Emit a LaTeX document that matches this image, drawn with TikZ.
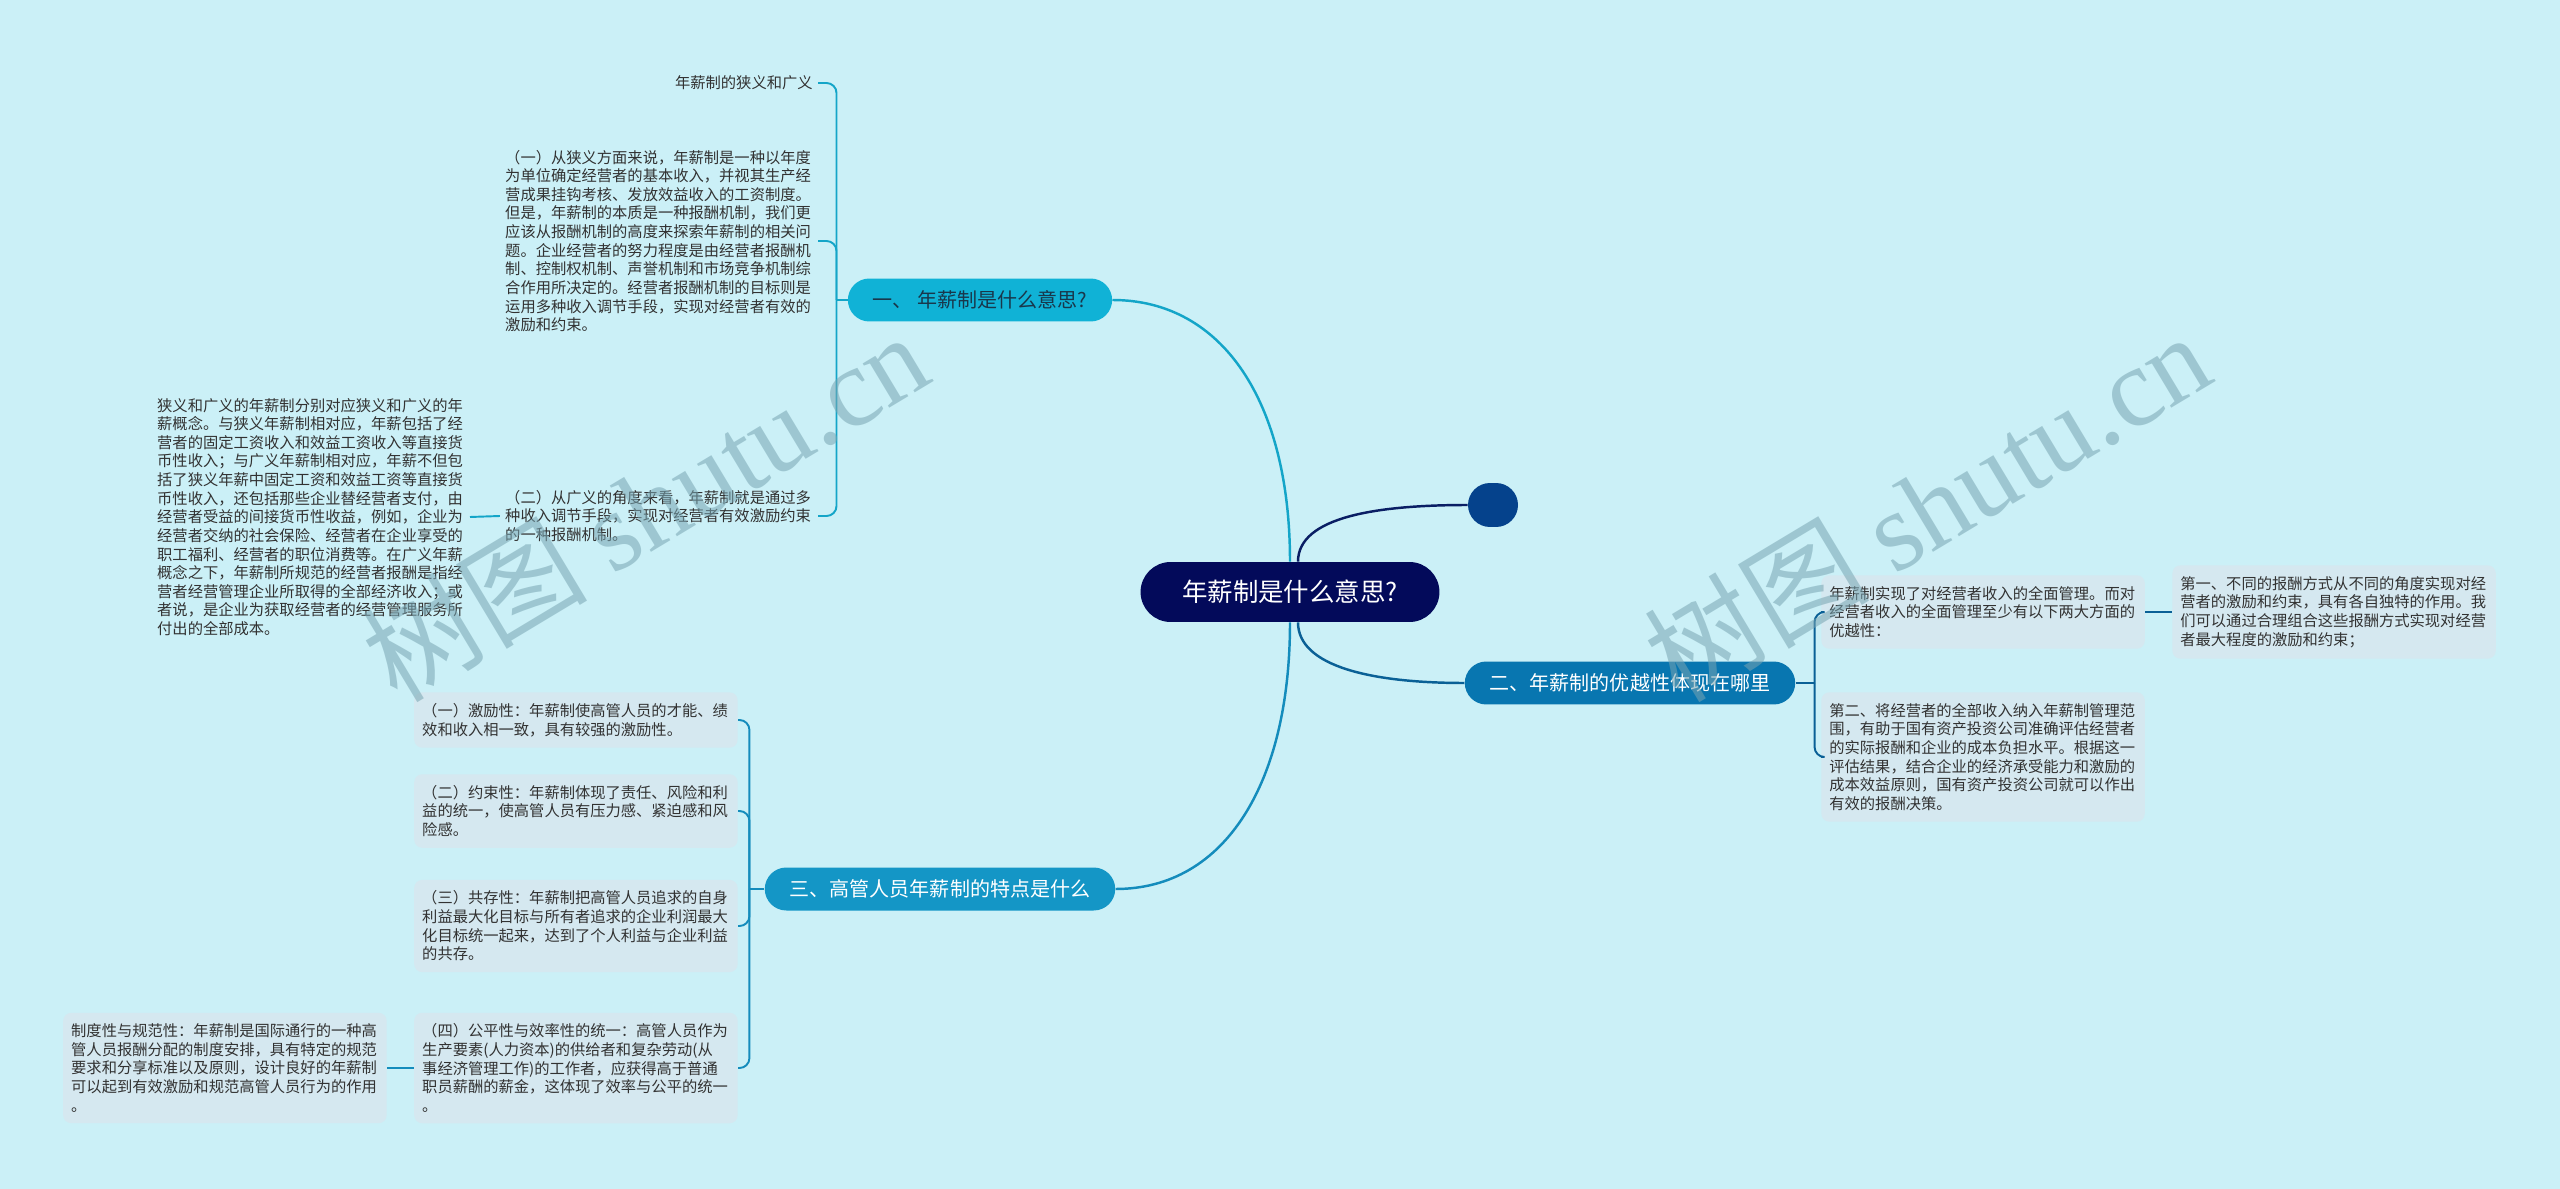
\documentclass[tikz,border=0pt]{standalone}
\usepackage{fontspec}
\setmainfont{Noto Sans CJK SC}
\newfontfamily\wmlatin{Liberation Serif}
\usetikzlibrary{calc}

\definecolor{bgcol}{RGB}{203,240,247}
\definecolor{rootcol}{RGB}{3,10,90}
\definecolor{blobcol}{RGB}{5,66,140}
\definecolor{onecol}{RGB}{16,178,214}
\definecolor{onetext}{RGB}{25,55,75}
\definecolor{twocol}{RGB}{8,118,176}
\definecolor{threecol}{RGB}{20,150,198}
\definecolor{lineone}{RGB}{20,165,200}
\definecolor{linetwo}{RGB}{10,96,150}
\definecolor{linethree}{RGB}{20,140,188}
\definecolor{linenavy}{RGB}{10,30,100}
\definecolor{cardcol}{RGB}{213,232,240}
\definecolor{txtcol}{RGB}{50,50,50}
\definecolor{wmcol}{RGB}{120,165,178}

\begin{document}
\begin{tikzpicture}[x=0.02cm,y=-0.02cm,
    root/.style={fill=rootcol,text=white,rounded corners=0.6cm,minimum height=1.2cm,
        inner xsep=0.83cm,font=\fontsize{14.5pt}{16pt}\selectfont},
    blob/.style={fill=blobcol,rounded corners=0.44cm,minimum width=1cm,minimum height=0.88cm},
    branch/.style={rounded corners=0.43cm,minimum height=0.86cm,inner xsep=0.5cm,
        text=white,font=\fontsize{11.4pt}{13pt}\selectfont},
    leaf/.style={text=txtcol,align=left,text width=6.15cm,inner sep=0.1cm,
        font=\fontsize{8.7pt}{10.6pt}\selectfont},
    card/.style={leaf,fill=cardcol,rounded corners=0.16cm,inner xsep=0.16cm,inner ysep=0.22cm},
    link/.style={line width=1.4pt},
    brace/.style={line width=1.1pt,rounded corners=0.2cm},
    wm/.style={text=wmcol,opacity=0.55,font=\fontsize{64pt}{70pt}\selectfont}
  ]
  \useasboundingbox (0,0) rectangle (2560,1189);
  \fill[bgcol] (0,0) rectangle (2560,1189);

  % centre
  \node[root] (root) at (1290,592) {年薪制是什么意思?};
  \node[blob] (blob) at (1493,505) {};

  % three main topics
  \node[branch,fill=onecol,text=onetext] (b1) at (980,300) {一、 年薪制是什么意思?};
  \node[branch,fill=twocol] (b2) at (1630,683) {二、年薪制的优越性体现在哪里};
  \node[branch,fill=threecol] (b3) at (940,889) {三、高管人员年薪制的特点是什么};

  \coordinate (b1j) at ($(b1.west)+(-11,0)$);
  \coordinate (b2j) at ($(b2.east)+(19,0)$);
  \coordinate (b3j) at ($(b3.west)+(-15,0)$);

  % branch 1
  \node[leaf,anchor=east,align=right] (c11) at (818,83) {年薪制的狭义和广义};
  \node[leaf,anchor=east] (c12) at (818,241) {（一）从狭义方面来说，年薪制是一种以年度\\
    为单位确定经营者的基本收入，并视其生产经\\
    营成果挂钩考核、发放效益收入的工资制度。\\
    但是，年薪制的本质是一种报酬机制，我们更\\
    应该从报酬机制的高度来探索年薪制的相关问\\
    题。企业经营者的努力程度是由经营者报酬机\\
    制、控制权机制、声誉机制和市场竞争机制综\\
    合作用所决定的。经营者报酬机制的目标则是\\
    运用多种收入调节手段，实现对经营者有效的\\
    激励和约束。};
  \node[leaf,anchor=east] (c13) at (818,516) {（二）从广义的角度来看，年薪制就是通过多\\
    种收入调节手段，实现对经营者有效激励约束\\
    的一种报酬机制。};
  \node[leaf,anchor=east] (c131) at (470,517) {狭义和广义的年薪制分别对应狭义和广义的年\\
    薪概念。与狭义年薪制相对应，年薪包括了经\\
    营者的固定工资收入和效益工资收入等直接货\\
    币性收入；与广义年薪制相对应，年薪不但包\\
    括了狭义年薪中固定工资和效益工资等直接货\\
    币性收入，还包括那些企业替经营者支付，由\\
    经营者受益的间接货币性收益，例如，企业为\\
    经营者交纳的社会保险、经营者在企业享受的\\
    职工福利、经营者的职位消费等。在广义年薪\\
    概念之下，年薪制所规范的经营者报酬是指经\\
    营者经营管理企业所取得的全部经济收入；或\\
    者说，是企业为获取经营者的经营管理服务所\\
    付出的全部成本。};

  % branch 2
  \node[card,anchor=west] (c21) at (1821,612) {年薪制实现了对经营者收入的全面管理。而对\\
    经营者收入的全面管理至少有以下两大方面的\\
    优越性：};
  \node[card,anchor=west] (c211) at (2172,612) {第一、不同的报酬方式从不同的角度实现对经\\
    营者的激励和约束，具有各自独特的作用。我\\
    们可以通过合理组合这些报酬方式实现对经营\\
    者最大程度的激励和约束；};
  \node[card,anchor=west] (c22) at (1821,757) {第二、将经营者的全部收入纳入年薪制管理范\\
    围，有助于国有资产投资公司准确评估经营者\\
    的实际报酬和企业的成本负担水平。根据这一\\
    评估结果，结合企业的经济承受能力和激励的\\
    成本效益原则，国有资产投资公司就可以作出\\
    有效的报酬决策。};

  % branch 3
  \node[card,anchor=east] (c31) at (738,720) {（一）激励性：年薪制使高管人员的才能、绩\\
    效和收入相一致，具有较强的激励性。};
  \node[card,anchor=east] (c32) at (738,811) {（二）约束性：年薪制体现了责任、风险和利\\
    益的统一，使高管人员有压力感、紧迫感和风\\
    险感。};
  \node[card,anchor=east] (c33) at (738,926) {（三）共存性：年薪制把高管人员追求的自身\\
    利益最大化目标与所有者追求的企业利润最大\\
    化目标统一起来，达到了个人利益与企业利益\\
    的共存。};
  \node[card,anchor=east] (c34) at (738,1068) {（四）公平性与效率性的统一：高管人员作为\\
    生产要素(人力资本)的供给者和复杂劳动(从\\
    事经济管理工作)的工作者，应获得高于普通\\
    职员薪酬的薪金，这体现了效率与公平的统一\\
    。};
  \node[card,anchor=east] (c341) at (387,1068) {制度性与规范性：年薪制是国际通行的一种高\\
    管人员报酬分配的制度安排，具有特定的规范\\
    要求和分享标准以及原则，设计良好的年薪制\\
    可以起到有效激励和规范高管人员行为的作用\\
    。};

  % links from the centre
  \draw[link,lineone] (root.north) .. controls +(0,-160) and +(110,0) .. (b1.east);
  \draw[link,linethree] (root.south) .. controls +(0,160) and +(110,0) .. (b3.east);
  \draw[link,linenavy] ([xshift=0.16cm]root.north) .. controls +(0,-45) and +(-90,0) .. (blob.west);
  \draw[link,linetwo] ([xshift=0.16cm]root.south) .. controls +(0,45) and +(-90,0) .. (b2.west);

  % braces
  \draw[brace,lineone] (b1.west) -- (b1j);
  \draw[brace,lineone] (b1j) |- (c11.east);
  \draw[brace,lineone] (b1j) |- (c12.east);
  \draw[brace,lineone] (b1j) |- (c13.east);
  \draw[brace,lineone] (c13.west) -- (c131.east);

  \draw[brace,linetwo] (b2.east) -- (b2j);
  \draw[brace,linetwo] (b2j) |- (c21.west);
  \draw[brace,linetwo] (b2j) |- (c22.west);
  \draw[brace,linetwo] (c21.east) -- (c211.west);

  \draw[brace,linethree] (b3.west) -- (b3j);
  \draw[brace,linethree] (b3j) |- (c31.east);
  \draw[brace,linethree] (b3j) |- (c32.east);
  \draw[brace,linethree] (b3j) |- (c33.east);
  \draw[brace,linethree] (b3j) |- (c34.east);
  \draw[brace,linethree] (c34.west) -- (c341.east);

  % watermarks
  \node[wm,rotate=31] (wmleft) at (645,506) {树图 {\wmlatin shutu.cn}};
  \node[wm,rotate=31] (wmright) at (1927,506) {树图 {\wmlatin shutu.cn}};
\end{tikzpicture}
\end{document}
